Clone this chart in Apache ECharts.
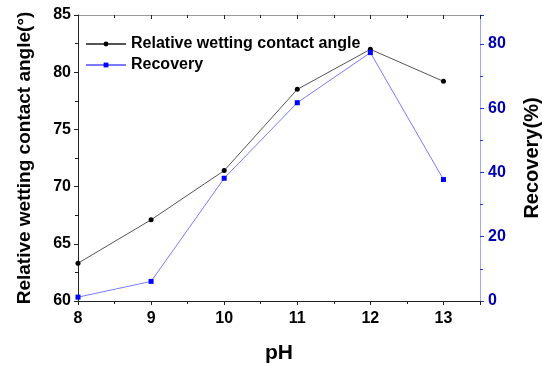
<!DOCTYPE html>
<html><head><meta charset="utf-8">
<script src="https://cdn.jsdelivr.net/npm/echarts@6/dist/echarts.min.js"></script>
<style>html,body{margin:0;padding:0;background:#fff}#c{width:542px;height:367px}</style>
</head><body><div id="c"></div>
<script>
const pH = [8, 9, 10, 11, 12, 13];
const contactAngle = [63.3, 67.1, 71.4, 78.5, 82.0, 79.2];
const recovery = [1.2, 6.1, 38.2, 61.7, 77.3, 37.8];
const leftTicks = [60, 65, 70, 75, 80, 85];
const rightTicks = [0, 20, 40, 60, 80];

const font = 'Liberation Sans, Arial, sans-serif';
const chart = echarts.init(document.getElementById('c'));
chart.setOption({
  animation: false,
  grid: { left: 78, right: 62, top: 15, bottom: 66, containLabel: false, outerBoundsMode: 'none' },
  legend: {
    left: 80, top: 31, orient: 'vertical', itemGap: 5, itemWidth: 40, itemHeight: 6,
    textStyle: { fontFamily: font, fontWeight: 'bold', fontSize: 16, color: '#000' },
    data: ['Relative wetting contact angle', 'Recovery']
  },
  xAxis: [{
    type: 'value', min: 8, max: 13.5, interval: 1,
    name: 'pH', nameLocation: 'middle', nameGap: 42,
    nameTextStyle: { fontFamily: font, fontWeight: 'bold', fontSize: 21, color: '#000' },
    axisLine: { lineStyle: { color: '#222', width: 1 } },
    axisTick: { inside: false, length: 4, lineStyle: { color: '#222' } },
    minorTick: { show: true, splitNumber: 2, length: 3, lineStyle: { color: '#222' } },
    splitLine: { show: false },
    axisLabel: { fontFamily: font, fontWeight: 'bold', fontSize: 16, color: '#000', margin: 10, showMaxLabel: false,
      formatter: v => (Number.isInteger(v) ? v : '') }
  }, {
    type: 'value', min: 8, max: 13.5, interval: 1, position: 'top',
    axisLine: { lineStyle: { color: '#999', width: 1 } },
    axisTick: { inside: true, length: 4, lineStyle: { color: '#222' } },
    minorTick: { show: true, splitNumber: 2, length: 3, lineStyle: { color: '#222' } },
    splitLine: { show: false },
    axisLabel: { show: false }
  }],
  yAxis: [{
    type: 'value', min: 60, max: 85, interval: 5, position: 'left',
    name: 'Relative wetting contact angle(°)', nameLocation: 'middle', nameGap: 44,
    nameTextStyle: { fontFamily: font, fontWeight: 'bold', fontSize: 19, color: '#000' },
    axisLine: { show: true, lineStyle: { color: '#222', width: 1 } },
    axisTick: { show: true, inside: false, length: 4, lineStyle: { color: '#222' } },
    minorTick: { show: true, splitNumber: 2, length: 3, lineStyle: { color: '#222' } },
    splitLine: { show: false },
    axisLabel: { fontFamily: font, fontWeight: 'bold', fontSize: 16, color: '#000', margin: 7 }
  }, {
    type: 'value', min: 0, max: 89, interval: 20, position: 'right',
    name: 'Recovery(%)', nameLocation: 'middle', nameGap: 42,
    nameTextStyle: { fontFamily: font, fontWeight: 'bold', fontSize: 20, color: '#000' },
    axisLine: { show: true, lineStyle: { color: '#9fa8ff', width: 1 } },
    axisTick: { show: true, inside: false, length: 4, lineStyle: { color: '#2233cc' } },
    minorTick: { show: true, splitNumber: 2, length: 3, lineStyle: { color: '#2233cc' } },
    splitLine: { show: false },
    axisLabel: { fontFamily: font, fontWeight: 'bold', fontSize: 16, color: '#0000b0', margin: 8, showMaxLabel: false }
  }],
  series: [{
    name: 'Relative wetting contact angle', type: 'line', xAxisIndex: 0, yAxisIndex: 0,
    data: pH.map((x, i) => [x, contactAngle[i]]),
    symbol: 'circle', symbolSize: 5,
    itemStyle: { color: '#000' },
    lineStyle: { color: '#555', width: 1 }
  }, {
    name: 'Recovery', type: 'line', xAxisIndex: 0, yAxisIndex: 1,
    data: pH.map((x, i) => [x, recovery[i]]),
    symbol: 'rect', symbolSize: 5,
    itemStyle: { color: '#0000ff' },
    lineStyle: { color: '#7a7aff', width: 1 }
  }]
});
</script></body></html>
